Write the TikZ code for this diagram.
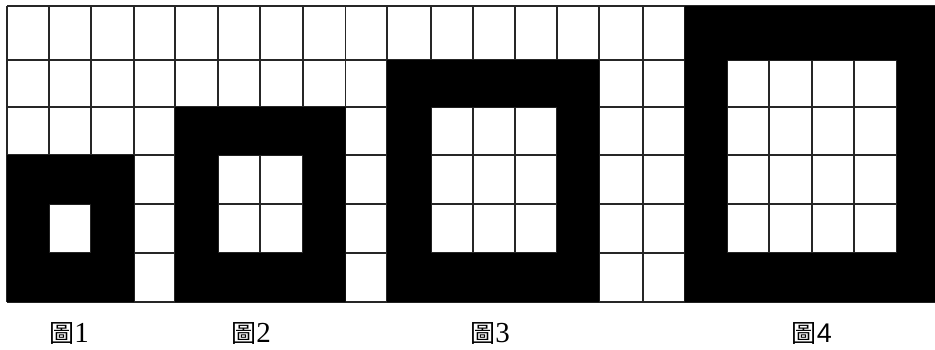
\documentclass[tikz,border=0pt]{standalone}
\usepackage{fontspec}
\setmainfont{Liberation Serif}
\newfontfamily\cjk{Noto Sans CJK TC}
\newfontfamily\arialf{Liberation Sans}
\begin{document}
\begin{tikzpicture}[x=1pt,y=-1pt,
  gridline/.style={line width=1.6pt,draw=black!85},
  blk/.style={fill=black,even odd rule},
  lbl/.style={anchor=center,inner sep=0pt}]
\useasboundingbox (0,0) rectangle (935,349);
\fill[white] (0,0) rectangle (935,349);
% column and row positions
\def\cols{7,49,91,134,175,218,260,303,345.5,387,431,473,515,557,599,643,684.5,727,769,812,854,897,935}
\def\rows{6,60,107,155,204,253,302}
\foreach \x in {7,49,91,134,175,218,260,303,345.5,387,431,473,515,557,599,643,684.5,727,769,812,854,897}
  \draw[gridline] (\x,6) -- (\x,302);
\foreach \y in {6,60,107,155,204,253,302}
  \draw[gridline] (7,\y) -- (935,\y);
% figure 1
\fill[blk] (7,155) rectangle (134,302) (49,204) rectangle (91,253);
% figure 2
\fill[blk] (175,107) rectangle (345.5,302) (218,155) rectangle (303,253);
% figure 3
\fill[blk] (387,60) rectangle (599,302) (431,107) rectangle (557,253);
% figure 4
\fill[blk] (684.5,6) rectangle (935,302) (727,60) rectangle (897,253);
% labels
\node[lbl] (l1) at (69,333) {\fontsize{25}{25}\selectfont\cjk 圖\fontsize{29}{29}\selectfont\rmfamily 1};
\node[lbl] (l2) at (251,333) {\fontsize{25}{25}\selectfont\cjk 圖\fontsize{29}{29}\selectfont\rmfamily 2};
\node[lbl] (l3) at (490,333) {\fontsize{25}{25}\selectfont\cjk 圖\fontsize{29}{29}\selectfont\rmfamily 3};
\node[lbl] (l4) at (812,333) {\fontsize{25}{25}\selectfont\cjk 圖\fontsize{27}{27}\selectfont\arialf 4};
\end{tikzpicture}
\end{document}
